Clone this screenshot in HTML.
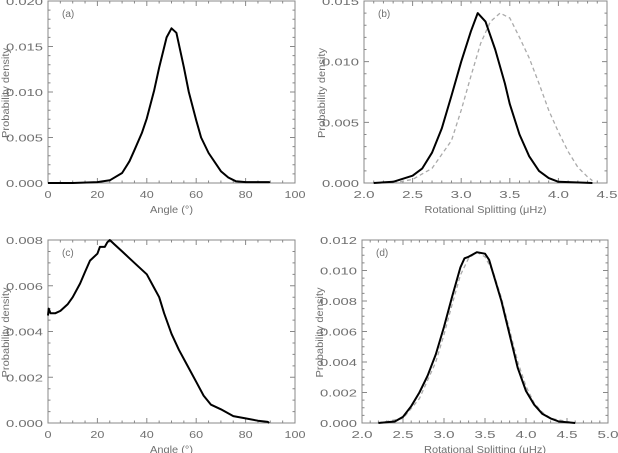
<!DOCTYPE html>
<html><head><meta charset="utf-8"><style>
html,body{margin:0;padding:0;background:#fff;}
svg{display:block;}
text{font-family:"Liberation Sans",sans-serif;fill:#707070;font-size:10px;}
</style></head><body>
<svg id="fig" width="618" height="453" viewBox="0 0 618 453" xmlns="http://www.w3.org/2000/svg"></svg>
<script>
// Panel (a)
const aX=[0,10,20,25,30,33,35,38,40,43,45,48,50,52,55,57,60,62,65,68,70,73,76,80,89.5,89.5];
const aY=[0,0,0.0001,0.0003,0.0011,0.0024,0.0036,0.0055,0.0071,0.0102,0.0127,0.0160,0.0170,0.0165,0.0127,0.0100,0.0069,0.0050,0.0033,0.0021,0.0013,0.0006,0.0002,0.0001,0.0001,0];
// Panel (b)
const bX=[2.1,2.3,2.5,2.6,2.7,2.8,2.9,3.0,3.1,3.17,3.25,3.35,3.45,3.5,3.6,3.7,3.8,3.9,4.0,4.35];
const bY=[0,0.0001,0.0006,0.0012,0.0025,0.0045,0.0072,0.0100,0.0125,0.0140,0.0133,0.0110,0.0082,0.0065,0.0040,0.0022,0.0010,0.0004,0.0001,0];
const bGX=[2.3,2.5,2.7,2.9,3.0,3.1,3.2,3.3,3.4,3.5,3.6,3.7,3.8,3.9,4.0,4.1,4.2,4.3,4.35];
const bGY=[0,0.0003,0.0012,0.0035,0.0060,0.0088,0.0115,0.0133,0.0140,0.0136,0.0120,0.0103,0.0082,0.0060,0.0042,0.0026,0.0013,0.0005,0.0002];
// Panel (c)
const cX=[0,0.3,1,3,5,8,10,13,15,17,20,21,23,24,25,27,30,33,36,40,43,45,47,50,53,56,60,63,66,70,75,80,85,89,89.5];
const cY=[0.0047,0.0050,0.0048,0.0048,0.0049,0.0052,0.0055,0.0061,0.0066,0.0071,0.0074,0.0077,0.0077,0.0079,0.0080,0.0078,0.0075,0.0072,0.0069,0.0065,0.0059,0.0055,0.0048,0.0039,0.0032,0.0026,0.0018,0.0012,0.0008,0.0006,0.0003,0.0002,0.0001,0.00005,0];
// Panel (d)
const dX=[2.2,2.4,2.5,2.6,2.7,2.8,2.9,3.0,3.1,3.2,3.25,3.3,3.4,3.5,3.55,3.6,3.7,3.8,3.9,4.0,4.1,4.2,4.3,4.4,4.6];
const dY=[0,0.0001,0.0004,0.0011,0.0020,0.0031,0.0045,0.0063,0.0083,0.0102,0.0108,0.0109,0.0112,0.0111,0.0107,0.0098,0.0080,0.0058,0.0036,0.0021,0.0012,0.0006,0.0003,0.0001,0];
const dGX=[2.2,2.5,2.7,2.9,3.0,3.1,3.2,3.3,3.4,3.5,3.6,3.7,3.8,3.9,4.0,4.1,4.2,4.3,4.6];
const dGY=[0,0.0003,0.0016,0.0040,0.0058,0.0078,0.0097,0.0108,0.0112,0.0109,0.0099,0.0082,0.0061,0.0040,0.0024,0.0013,0.0007,0.0003,0];

const aXT=["0","20","40","60","80","100"], aYT=["0.000","0.005","0.010","0.015","0.020"];
const bXT=["2.0","2.5","3.0","3.5","4.0","4.5"], bYT=["0.000","0.005","0.010","0.015"];
const cXT=aXT, cYT=["0.000","0.002","0.004","0.006","0.008"];
const dXT=["2.0","2.5","3.0","3.5","4.0","4.5","5.0"], dYT=["0.000","0.002","0.004","0.006","0.008","0.010","0.012"];

const NS="http://www.w3.org/2000/svg";
const svg=document.getElementById('fig');
function el(t,a,p){const e=document.createElementNS(NS,t);for(const k in a)e.setAttribute(k,a[k]);(p||svg).appendChild(e);return e;}

function panel(id,box,xr,yr,xt,yt,xminor,yminor,xtitle,xtitleLen,series){
  const g=el('g',{});
  
  
  const [L,T,R,B]=box;
  const sx=v=>L+(v-xr[0])/(xr[1]-xr[0])*(R-L);
  const sy=v=>B-(v-yr[0])/(yr[1]-yr[0])*(B-T);
  const fr=el('rect',{x:L,y:T,width:R-L,height:B-T,fill:'none',stroke:'#888','stroke-width':1},g);
  
  
  let d='';
  xt.forEach((lab,i)=>{
    const v=parseFloat(lab), x=sx(v);
    d+=`M${x},${B}v-5M${x},${T}v5`;
    const t=el('text',{x:x,y:B+15,'text-anchor':'middle',textLength:lab.length*7,lengthAdjust:'spacingAndGlyphs'},g);
    t.textContent=lab;
    
    
    if(i<xt.length-1){const nv=parseFloat(xt[i+1]);for(let k=1;k<xminor;k++){const xm=sx(v+(nv-v)*k/xminor);d+=`M${xm},${B}v-2.5M${xm},${T}v2.5`;}}
  });
  yt.forEach((lab,i)=>{
    const v=parseFloat(lab), y=sy(v);
    d+=`M${L},${y}h5M${R},${y}h-5`;
    const t=el('text',{x:L-5,y:y+4,'text-anchor':'end',textLength:lab.length*7.4,lengthAdjust:'spacingAndGlyphs'},g);
    t.textContent=lab;
    
    
    if(i<yt.length-1){const nv=parseFloat(yt[i+1]);for(let k=1;k<yminor;k++){const ym=sy(v+(nv-v)*k/yminor);d+=`M${L},${ym}h2.5M${R},${ym}h-2.5`;}}
  });
  el('path',{d:d,stroke:'#888','stroke-width':1,fill:'none'},g);
  const xtl=el('text',{x:(L+R)/2,y:B+30,'text-anchor':'middle',textLength:xtitleLen,lengthAdjust:'spacingAndGlyphs'},g);
  xtl.textContent=xtitle;
  
  
  const cy=(T+B)/2+1, tx=L-39;
  const ytl=el('text',{x:tx,y:cy,'text-anchor':'middle',transform:`rotate(-90 ${tx} ${cy})`,textLength:90,lengthAdjust:'spacingAndGlyphs'},g);
  ytl.textContent='Probability density';
  
  
  const pl=el('text',{x:L+14,y:T+16},g);
  pl.textContent='('+id+')';
  
  
  series.forEach(s=>{
    const pts=s.x.map((v,i)=>sx(v).toFixed(1)+','+sy(s.y[i]).toFixed(1)).join(' ');
    const p=el('polyline',{points:pts,fill:'none',stroke:s.c,'stroke-width':s.w,'stroke-dasharray':s.dash||'none','stroke-linejoin':'round'},g);
    
    
  });
}
panel('a',[48,1,295,183],[0,100],[0,0.020],aXT,aYT,4,5,'Angle (°)',43,[{x:aX,y:aY,c:'#000',w:2,name:'angle-density-curve'}]);
panel('b',[364,1,607,183],[2.0,4.5],[0,0.015],bXT,bYT,5,5,'Rotational Splitting (μHz)',122,[{x:bGX,y:bGY,c:'#aaa',w:1.3,dash:'4 3',name:'reference-splitting-curve'},{x:bX,y:bY,c:'#000',w:2,name:'splitting-density-curve'}]);
panel('c',[48,240,295,423],[0,100],[0,0.008],cXT,cYT,4,4,'Angle (°)',43,[{x:cX,y:cY,c:'#000',w:2,name:'angle-density-curve'}]);
panel('d',[362,240,608,423],[2.0,5.0],[0,0.012],dXT,dYT,5,4,'Rotational Splitting (μHz)',122,[{x:dGX,y:dGY,c:'#aaa',w:1.3,dash:'4 3',name:'reference-splitting-curve'},{x:dX,y:dY,c:'#000',w:2,name:'splitting-density-curve'}]);
</script>
</body></html>
